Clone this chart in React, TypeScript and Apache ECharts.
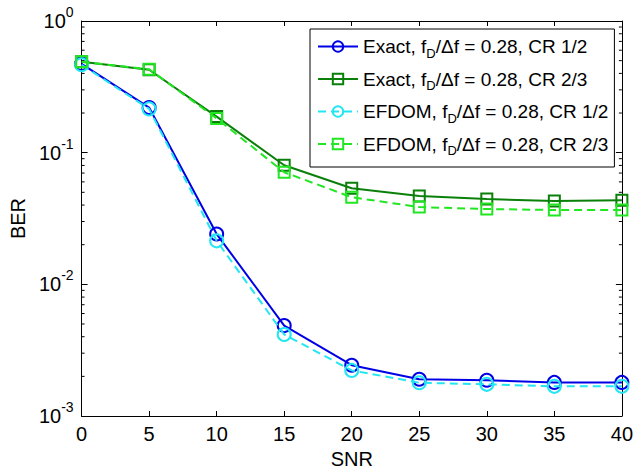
import React, { useEffect, useRef } from 'react';
import * as echarts from 'echarts';

const snr = [0, 5, 10, 15, 20, 25, 30, 35, 40];
const exactCR12 = [0.473, 0.22, 0.0241, 0.00486, 0.00243, 0.0019, 0.00187, 0.0018, 0.0018];
const exactCR23 = [0.49, 0.426, 0.188, 0.0802, 0.0537, 0.0468, 0.0444, 0.043, 0.0436];
const efdomCR12 = [0.465, 0.215, 0.0214, 0.00416, 0.00222, 0.00179, 0.00174, 0.00168, 0.00168];
const efdomCR23 = [0.49, 0.43, 0.182, 0.071, 0.0459, 0.0386, 0.0373, 0.0367, 0.0367];
const seriesNames = [
  'Exact, f_D/Δf = 0.28, CR 1/2',
  'Exact, f_D/Δf = 0.28, CR 2/3',
  'EFDOM, f_D/Δf = 0.28, CR 1/2',
  'EFDOM, f_D/Δf = 0.28, CR 2/3',
];
const xMin = 0;
const xMax = 40;
const xInterval = 5;
const yMin = 0.001;
const yMax = 1;
const minorTicks = [
  0.002, 0.003, 0.004, 0.005, 0.006, 0.007, 0.008, 0.009,
  0.02, 0.03, 0.04, 0.05, 0.06, 0.07, 0.08, 0.09,
  0.2, 0.3, 0.4, 0.5, 0.6, 0.7, 0.8, 0.9,
];

const FONT = '"Liberation Sans", Arial, Helvetica, sans-serif';

export default function App() {
  const ref = useRef<HTMLDivElement>(null);
  useEffect(() => {
    if (!ref.current) return;
    const chart = echarts.init(ref.current, undefined, { renderer: 'svg' });
    const colors = ['#0000e6', '#0a800a', '#22e6f2', '#22e622'];
    const datasets = [exactCR12, exactCR23, efdomCR12, efdomCR23];
    const symbols = ['circle', 'rect', 'circle', 'rect'];
    const dashed = [false, false, true, true];
    const lineSeries = datasets.map((d, i) => ({
      name: seriesNames[i],
      type: 'line',
      data: snr.map((x, j) => [x, d[j]]),
      symbol: symbols[i],
      symbolSize: symbols[i] === 'circle' ? 13 : 11,
      showAllSymbol: true,
      lineStyle: { color: colors[i], width: 2, type: dashed[i] ? [8, 5] : 'solid' },
      itemStyle: { color: 'rgba(0,0,0,0)', borderColor: colors[i], borderWidth: 2 },
      emphasis: { disabled: true },
      z: 2 + i,
    }));
    const axisLine = { show: true, onZero: false, lineStyle: { color: '#000', width: 1 } };
    chart.setOption({
      animation: false,
      backgroundColor: '#fff',
      textStyle: { fontFamily: FONT },
      grid: { left: 79, right: 10, top: 21, bottom: 56 },
      xAxis: [
        {
          type: 'value', min: xMin, max: xMax, interval: xInterval, position: 'bottom',
          name: 'SNR', nameLocation: 'middle', nameGap: 33,
          nameTextStyle: { fontSize: 20, color: '#000', fontFamily: FONT },
          axisLine,
          axisTick: { show: true, inside: true, length: 5, lineStyle: { color: '#000' } },
          axisLabel: { fontSize: 20, color: '#000', margin: 8, fontFamily: FONT },
          splitLine: { show: false },
        },
        {
          type: 'value', min: xMin, max: xMax, interval: xInterval, position: 'top',
          axisLine,
          axisTick: { show: true, inside: true, length: 5, lineStyle: { color: '#000' } },
          axisLabel: { show: false },
          splitLine: { show: false },
        },
      ],
      yAxis: [
        {
          type: 'log', logBase: 10, min: yMin, max: yMax, position: 'left',
          name: 'BER', nameLocation: 'middle', nameGap: 53,
          nameTextStyle: { fontSize: 20, color: '#000', fontFamily: FONT },
          axisLine,
          axisTick: { show: true, inside: true, length: 6, lineStyle: { color: '#000' } },
          axisLabel: {
            margin: 8,
            formatter: (v: number) => `{b|10}{s|${Math.round(Math.log10(v))}}`,
            rich: {
              b: { fontSize: 20, color: '#000', fontFamily: FONT, lineHeight: 32, verticalAlign: 'middle' },
              s: { fontSize: 14, color: '#000', fontFamily: FONT, lineHeight: 14, verticalAlign: 'top' },
            },
          },
          splitLine: { show: false },
        },
        {
          type: 'log', logBase: 10, min: yMin, max: yMax, position: 'right',
          axisLine,
          axisTick: { show: true, inside: true, length: 6, lineStyle: { color: '#000' } },
          axisLabel: { show: false },
          splitLine: { show: false },
        },
      ],
      legend: {
        data: seriesNames,
        orient: 'vertical',
        left: 310,
        top: 29,
        padding: [8, 6, 10, 7],
        itemGap: 10,
        itemWidth: 40,
        itemHeight: 13,
        backgroundColor: '#fff',
        borderColor: '#000',
        borderWidth: 1,
        borderRadius: 0,
        selectedMode: false,
        formatter: (name: string) => {
          const [a, b] = name.split('_D');
          return `{n|${a}}{s|D}{n|${b}}`;
        },
        textStyle: {
          rich: {
            n: { fontSize: 19, color: '#000', fontFamily: FONT, lineHeight: 26, verticalAlign: 'middle' },
            s: { fontSize: 13, color: '#000', fontFamily: FONT, lineHeight: 12, verticalAlign: 'bottom' },
          },
        },
      },
      series: [
        ...lineSeries,
        {
          type: 'custom',
          silent: true,
          data: minorTicks.map((v) => [xMin, v]),
          encode: { x: 0, y: 1 },
          z: 1,
          renderItem: (params: any, api: any) => {
            const v = api.value(1);
            const l = api.coord([xMin, v]);
            const r = api.coord([xMax, v]);
            return {
              type: 'group',
              children: [
                { type: 'line', shape: { x1: l[0], y1: l[1], x2: l[0] + 3, y2: l[1] }, style: { stroke: '#000', lineWidth: 1 } },
                { type: 'line', shape: { x1: r[0] - 3, y1: r[1], x2: r[0], y2: r[1] }, style: { stroke: '#000', lineWidth: 1 } },
              ],
            };
          },
        },
      ],
    });
    return () => chart.dispose();
  }, []);
  return <div ref={ref} style={{ position: 'absolute', left: 0, top: 0, width: 636, height: 474 }} />;
}
